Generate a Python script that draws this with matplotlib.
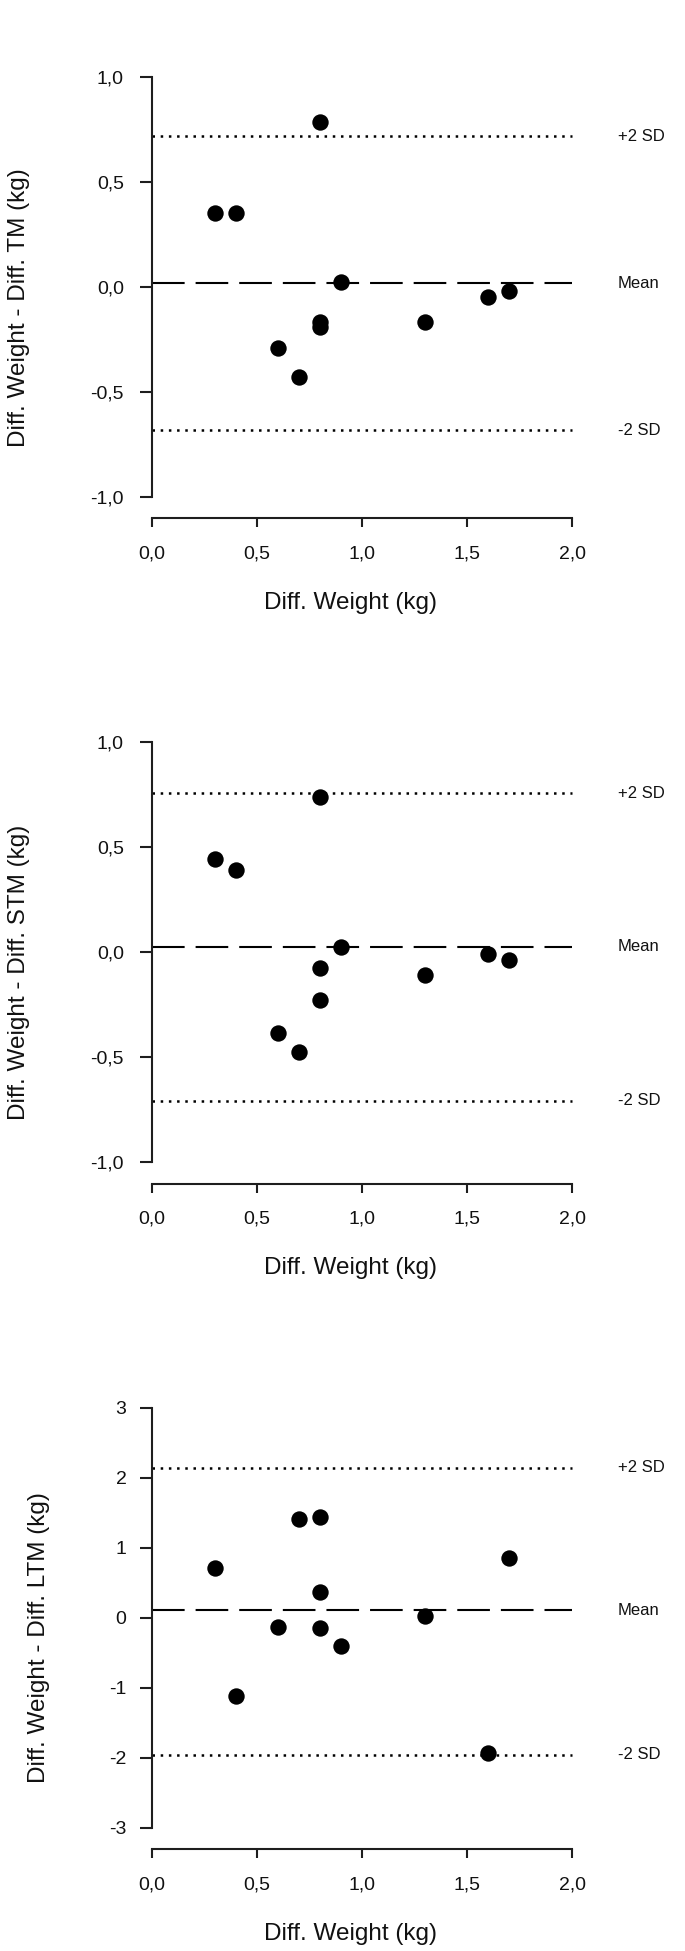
import matplotlib
matplotlib.use('Agg')
import matplotlib.pyplot as plt

plt.rcParams['font.family'] = ['Liberation Sans', 'DejaVu Sans']
plt.rcParams['lines.scale_dashes'] = False

# ---------------- data ----------------
diff_weight = [0.3, 0.4, 0.6, 0.7, 0.8, 0.8, 0.8, 0.9, 1.3, 1.6, 1.7]

tm_diff = [0.352, 0.352, -0.290, -0.431, 0.783, -0.166, -0.194, 0.020, -0.170, -0.049, -0.020]
stm_diff = [0.442, 0.391, -0.387, -0.476, 0.740, -0.078, -0.230, 0.023, -0.107, -0.007, -0.036]
ltm_diff = [0.713, -1.123, -0.140, 1.406, 1.436, 0.364, -0.146, -0.412, 0.026, -1.935, 0.844]

# mean, +2 SD, -2 SD
tm_limits = [0.016, 0.717, -0.684]
stm_limits = [0.025, 0.756, -0.708]
ltm_limits = [0.103, 2.141, -1.958]

ylabels = ["Diff. Weight - Diff. TM (kg)",
           "Diff. Weight - Diff. STM (kg)",
           "Diff. Weight - Diff. LTM (kg)"]

x_ticks = [0.0, 0.5, 1.0, 1.5, 2.0]
x_ticklabels = ["0,0", "0,5", "1,0", "1,5", "2,0"]
y_ticks_small = [-1.0, -0.5, 0.0, 0.5, 1.0]
y_ticklabels_small = ["-1,0", "-0,5", "0,0", "0,5", "1,0"]
y_ticks_large = [-3, -2, -1, 0, 1, 2, 3]
y_ticklabels_large = ["-3", "-2", "-1", "0", "1", "2", "3"]
line_labels = ["Mean", "+2 SD", "-2 SD"]

# ---------------- layout ----------------
W, H, DPI = 685, 1951, 100
fig = plt.figure(figsize=(W / DPI, H / DPI), dpi=DPI)
fig.patch.set_facecolor('white')

AX_LEFT, AX_RIGHT = 151.7, 572.3
PANEL_STEP = 665.4
TOP0 = 76.7
YSPAN = 420.0
XAXIS_GAP = 21.5

LINE_COL = '#1e1e1e'
TXT_COL = '#111111'

panels = [
    (tm_diff, tm_limits, ylabels[0], y_ticks_small, y_ticklabels_small, (-1.0, 1.0), 19.5, 11.5),
    (stm_diff, stm_limits, ylabels[1], y_ticks_small, y_ticklabels_small, (-1.0, 1.0), 19.5, 11.5),
    (ltm_diff, ltm_limits, ylabels[2], y_ticks_large, y_ticklabels_large, (-3.0, 3.0), 39.0, 9.5),
]

for i, (yvals, limits, ylab, yt, ytl, (ymin, ymax), ylab_x, ypad) in enumerate(panels):
    top = TOP0 + PANEL_STEP * i
    ybot = top + YSPAN
    xaxis = ybot + XAXIS_GAP
    ax = fig.add_axes([AX_LEFT / W, 1 - xaxis / H,
                       (AX_RIGHT - AX_LEFT) / W, (xaxis - top) / H])
    scale = YSPAN / (ymax - ymin)
    ax.set_xlim(0, 2)
    ax.set_ylim(ymin - XAXIS_GAP / scale, ymax)
    ax.patch.set_alpha(0)

    for s in ['top', 'right']:
        ax.spines[s].set_visible(False)
    ax.spines['left'].set_bounds(ymin, ymax)
    ax.spines['bottom'].set_bounds(0, 2)
    for s in ['left', 'bottom']:
        ax.spines[s].set_linewidth(1.5)
        ax.spines[s].set_color(LINE_COL)

    ax.set_xticks(x_ticks)
    ax.set_xticklabels(x_ticklabels)
    ax.set_yticks(yt)
    ax.set_yticklabels(ytl)
    ax.tick_params(axis='x', length=6.5, width=1.5, pad=13, labelsize=14,
                   color=LINE_COL, labelcolor=TXT_COL)
    ax.tick_params(axis='y', length=8.6, width=1.5, pad=ypad, labelsize=14,
                   color=LINE_COL, labelcolor=TXT_COL)

    mean, upper, lower = limits
    ax.plot([0, 2], [mean, mean], color='black', lw=1.5,
            linestyle=(0, (23.5, 7.9)), dash_capstyle='butt', clip_on=False)
    for v in (upper, lower):
        ax.plot([0, 2], [v, v], color='black', lw=1.8,
                linestyle=(0, (1.8, 4.1)), dash_capstyle='butt', clip_on=False)

    ax.plot(diff_weight, yvals, 'o', color='black', ms=11.8, mew=0, clip_on=False, zorder=5)

    for lab, v in zip(line_labels, limits):
        ax.text(2.217, v, lab, fontsize=12, ha='left', va='center',
                color=TXT_COL, clip_on=False)

    ax.set_xlabel("Diff. Weight (kg)", fontsize=17.5, color=TXT_COL)
    ax.xaxis.label.set_va('center')
    ax.xaxis.set_label_coords(351 / W, 1 - (xaxis + 84.5) / H, transform=fig.transFigure)

    ax.set_ylabel(ylab, fontsize=17.5, color=TXT_COL)
    ax.yaxis.label.set_va('center')
    ax.yaxis.set_label_coords(ylab_x / W, 1 - (top + 230.5) / H, transform=fig.transFigure)

fig.savefig('out.png', dpi=DPI, facecolor='white')
